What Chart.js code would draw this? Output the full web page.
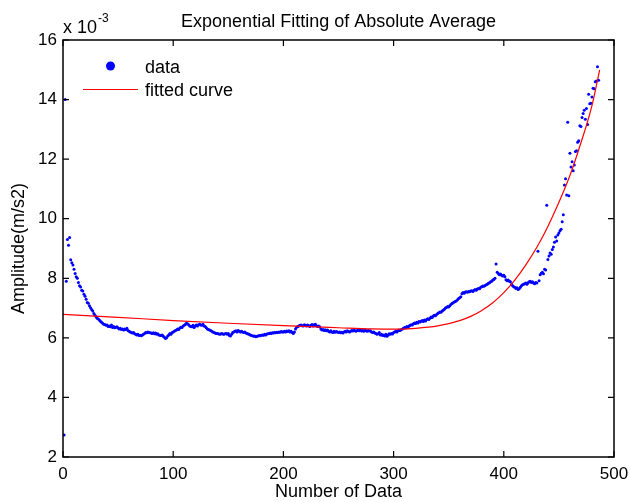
<!DOCTYPE html>
<html>
<head>
<title>Exponential Fitting of Absolute Average</title>
<script src="https://cdn.jsdelivr.net/npm/chart.js"></script>
<style>body { margin: 0; background: #fff; }</style>
</head>
<body>
<canvas id="fitChart" width="630" height="502"></canvas>
<script>
// amplitude in units of 1e-3 m/s2, sample number 1..486
const amplitude = [
  2.74, 14.0, 7.90, 9.30, 9.11, 9.37, 8.62, 8.52, 8.45, 8.30,
  8.16, 8.05, 8.00, 7.86, 7.75, 7.71, 7.60, 7.57, 7.46, 7.40,
  7.30, 7.19, 7.16, 7.08, 7.01, 6.95, 6.90, 6.82, 6.76, 6.71,
  6.66, 6.63, 6.60, 6.56, 6.52, 6.49, 6.46, 6.45, 6.42, 6.43,
  6.38, 6.40, 6.37, 6.43, 6.35, 6.38, 6.34, 6.36, 6.37, 6.33,
  6.30, 6.32, 6.28, 6.30, 6.26, 6.30, 6.28, 6.32, 6.25, 6.22,
  6.20, 6.18, 6.16, 6.18, 6.14, 6.12, 6.10, 6.12, 6.08, 6.09,
  6.07, 6.10, 6.12, 6.15, 6.18, 6.17, 6.20, 6.18, 6.17, 6.16,
  6.15, 6.17, 6.14, 6.16, 6.12, 6.14, 6.10, 6.09, 6.08, 6.10,
  6.05, 6.02, 5.98, 6.00, 6.06, 6.10, 6.15, 6.12, 6.18, 6.20,
  6.22, 6.25, 6.26, 6.30, 6.28, 6.33, 6.36, 6.35, 6.40, 6.42,
  6.45, 6.49, 6.47, 6.44, 6.40, 6.38, 6.37, 6.42, 6.35, 6.40,
  6.43, 6.40, 6.44, 6.46, 6.43, 6.42, 6.46, 6.40, 6.38, 6.34,
  6.30, 6.28, 6.26, 6.25, 6.22, 6.20, 6.18, 6.16, 6.15, 6.15,
  6.14, 6.12, 6.13, 6.15, 6.13, 6.12, 6.14, 6.15, 6.12, 6.15,
  6.08, 6.06, 6.12, 6.18, 6.20, 6.22, 6.24, 6.20, 6.25, 6.22,
  6.20, 6.22, 6.20, 6.18, 6.20, 6.16, 6.15, 6.13, 6.12, 6.10,
  6.08, 6.07, 6.05, 6.06, 6.04, 6.05, 6.06, 6.08, 6.07, 6.09,
  6.10, 6.09, 6.12, 6.10, 6.13, 6.14, 6.15, 6.16, 6.15, 6.17,
  6.16, 6.18, 6.17, 6.19, 6.18, 6.20, 6.19, 6.21, 6.20, 6.20,
  6.22, 6.20, 6.23, 6.21, 6.24, 6.20, 6.22, 6.18, 6.15, 6.20,
  6.30, 6.36, 6.38, 6.40, 6.42, 6.43, 6.41, 6.40, 6.44, 6.42,
  6.40, 6.43, 6.41, 6.38, 6.42, 6.45, 6.40, 6.44, 6.46, 6.41,
  6.38, 6.40, 6.37, 6.30, 6.26, 6.28, 6.25, 6.27, 6.24, 6.26,
  6.22, 6.20, 6.24, 6.20, 6.18, 6.22, 6.19, 6.21, 6.20, 6.18,
  6.20, 6.17, 6.19, 6.16, 6.20, 6.22, 6.20, 6.24, 6.21, 6.20,
  6.22, 6.25, 6.23, 6.26, 6.24, 6.22, 6.25, 6.27, 6.24, 6.26,
  6.23, 6.25, 6.22, 6.26, 6.24, 6.22, 6.25, 6.23, 6.24, 6.20,
  6.18, 6.20, 6.16, 6.15, 6.12, 6.14, 6.18, 6.10, 6.12, 6.08,
  6.10, 6.06, 6.12, 6.05, 6.10, 6.14, 6.12, 6.15, 6.13, 6.18,
  6.20, 6.22, 6.20, 6.24, 6.26, 6.25, 6.28, 6.30, 6.32, 6.35,
  6.34, 6.38, 6.36, 6.40, 6.42, 6.44, 6.43, 6.47, 6.50, 6.48,
  6.52, 6.50, 6.55, 6.53, 6.56, 6.58, 6.55, 6.60, 6.57, 6.62,
  6.64, 6.62, 6.66, 6.70, 6.68, 6.73, 6.76, 6.74, 6.78, 6.82,
  6.84, 6.87, 6.86, 6.90, 6.93, 6.96, 7.00, 7.02, 7.05, 7.04,
  7.08, 7.12, 7.15, 7.18, 7.20, 7.22, 7.25, 7.28, 7.32, 7.35,
  7.38, 7.48, 7.52, 7.50, 7.54, 7.55, 7.53, 7.56, 7.55, 7.57,
  7.58, 7.56, 7.60, 7.62, 7.60, 7.64, 7.66, 7.65, 7.70, 7.72,
  7.74, 7.73, 7.76, 7.78, 7.80, 7.83, 7.85, 7.88, 7.90, 7.94,
  7.96, 8.00, 8.48, 8.20, 8.16, 8.12, 8.14, 8.10, 8.08, 8.10,
  8.05, 7.95, 7.92, 7.94, 7.90, 7.88, 7.80, 7.75, 7.72, 7.70,
  7.66, 7.68, 7.62, 7.65, 7.70, 7.75, 7.78, 7.80, 7.82, 7.84,
  7.80, 7.85, 7.88, 7.90, 7.86, 7.88, 7.84, 7.82, 7.86, 7.84,
  8.91, 7.92, 8.12, 8.17, 8.20, 8.15, 8.30, 8.28, 10.45, 8.63,
  8.75, 8.85, 8.81, 8.97, 9.05, 9.21, 9.39, 9.25, 9.45, 9.52,
  9.60, 9.65, 9.90, 10.13, 11.13, 11.34, 10.80, 13.24, 10.77, 12.20,
  11.74, 11.91, 11.61, 11.80, 12.26, 12.28, 12.57, 12.62, 13.12, 13.10,
  13.40, 13.53, 13.64, 13.34, 13.70, 13.16, 14.18, 13.86, 13.88, 14.09,
  14.38, 14.36, 14.60, 14.62, 15.10, 14.65
];

// fitted curve
const curveX = [0, 50, 100, 150, 200, 250, 280, 300, 320, 340, 360, 370, 380, 390, 400, 410, 420, 430, 440, 450, 460, 470, 480, 487];
const curveY = [6.79, 6.69, 6.58, 6.49, 6.41, 6.34, 6.30, 6.29, 6.32, 6.40, 6.58, 6.72, 6.92, 7.18, 7.52, 7.94, 8.45, 9.04, 9.74, 10.55, 11.45, 12.55, 13.80, 15.0];

const xTicks = [0, 100, 200, 300, 400, 500];
const yTicks = [2, 4, 6, 8, 10, 12, 14, 16];

const FONT = '"Liberation Sans", Arial, sans-serif';

// box, inward ticks on all sides, title, exponent and legend
const matlabFrame = {
    id: 'matlabFrame',
    afterDraw(chart) {
        const {ctx, chartArea: a, scales: {x, y}} = chart;
        ctx.save();
        ctx.strokeStyle = '#000';
        ctx.lineWidth = 1.5;
        ctx.strokeRect(a.left, a.top, a.right - a.left, a.bottom - a.top);
        ctx.lineWidth = 1.2;
        ctx.beginPath();
        xTicks.forEach(v => {
            const px = x.getPixelForValue(v);
            ctx.moveTo(px, a.bottom); ctx.lineTo(px, a.bottom - 6);
            ctx.moveTo(px, a.top); ctx.lineTo(px, a.top + 6);
        });
        yTicks.forEach(v => {
            const py = y.getPixelForValue(v);
            ctx.moveTo(a.left, py); ctx.lineTo(a.left + 6, py);
            ctx.moveTo(a.right, py); ctx.lineTo(a.right - 6, py);
        });
        ctx.stroke();

        ctx.fillStyle = '#000';
        ctx.font = '18px ' + FONT;
        ctx.textAlign = 'center';
        ctx.textBaseline = 'alphabetic';
        ctx.fillText('Exponential Fitting of Absolute Average', (a.left + a.right) / 2, 27);

        ctx.textAlign = 'left';
        ctx.fillText('x 10', a.left, 33);
        const w = ctx.measureText('x 10').width;
        ctx.font = '12px ' + FONT;
        ctx.fillText('-3', a.left + w + 1, 22);

        // legend
        ctx.font = '18px ' + FONT;
        ctx.fillStyle = '#0000ff';
        ctx.beginPath();
        ctx.arc(110.5, 66, 4.5, 0, Math.PI * 2);
        ctx.fill();
        ctx.strokeStyle = '#ff0000';
        ctx.lineWidth = 1;
        ctx.beginPath();
        ctx.moveTo(83, 89.5); ctx.lineTo(138, 89.5);
        ctx.stroke();
        ctx.fillStyle = '#000';
        ctx.fillText('data', 145, 73);
        ctx.fillText('fitted curve', 145, 96);
        ctx.restore();
    }
};

new Chart(document.getElementById('fitChart'), {
    type: 'scatter',
    data: {
        datasets: [{
            label: 'data',
            data: amplitude.map((v, i) => ({x: i + 1, y: v})),
            backgroundColor: '#0000ff',
            borderWidth: 0,
            pointRadius: 1.5,
            order: 1
        }, {
            label: 'fitted curve',
            type: 'line',
            data: curveX.map((v, i) => ({x: v, y: curveY[i]})),
            borderColor: '#ff0000',
            borderWidth: 1.2,
            pointRadius: 0,
            fill: false,
            cubicInterpolationMode: 'monotone',
            order: 0
        }]
    },
    options: {
        responsive: false,
        animation: false,
        layout: { padding: { left: 0, right: 16, top: 40, bottom: 0 } },
        plugins: { legend: { display: false }, tooltip: { enabled: false } },
        scales: {
            x: {
                type: 'linear',
                min: 0, max: 500,
                afterBuildTicks: s => { s.ticks = xTicks.map(v => ({value: v})); },
                afterFit: s => { s.height = 45; s.paddingLeft = 0; s.paddingRight = 0; },
                grid: { display: false, drawTicks: false },
                border: { display: false },
                ticks: { color: '#000', padding: 7, maxRotation: 0, font: { family: FONT, size: 17 } },
                title: { display: true, text: 'Number of Data', color: '#000', padding: { top: 0, bottom: 1 }, font: { family: FONT, size: 18, lineHeight: 1 } }
            },
            y: {
                min: 2, max: 16,
                afterBuildTicks: s => { s.ticks = yTicks.map(v => ({value: v})); },
                afterFit: s => { s.width = 63; s.paddingTop = 0; s.paddingBottom = 0; },
                grid: { display: false, drawTicks: false },
                border: { display: false },
                ticks: { color: '#000', padding: 6, font: { family: FONT, size: 17 } },
                title: { display: true, text: 'Amplitude(m/s2)', color: '#000', padding: { top: 8, bottom: 0 }, font: { family: FONT, size: 18, lineHeight: 1.2 } }
            }
        }
    },
    plugins: [matlabFrame]
});
</script>
</body>
</html>
